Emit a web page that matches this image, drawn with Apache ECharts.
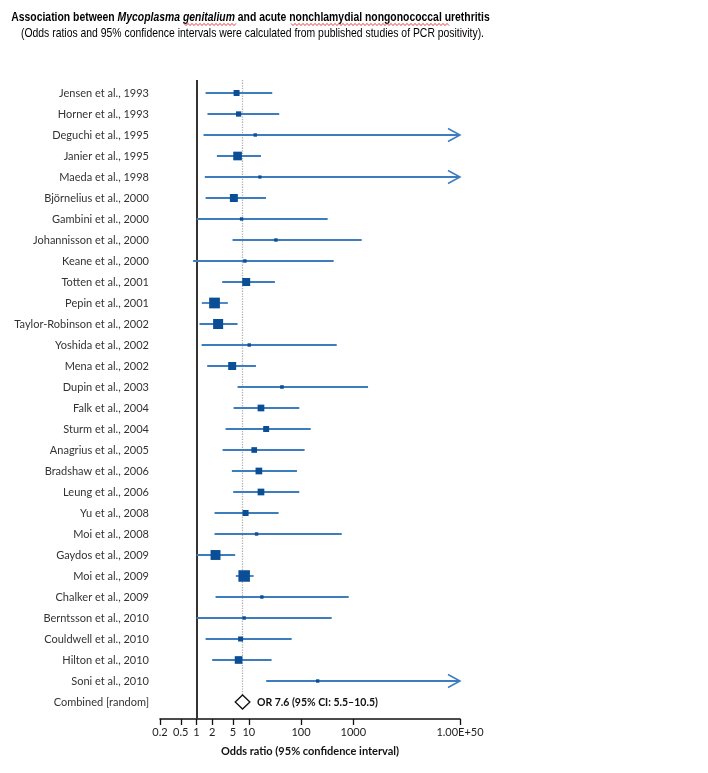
<!DOCTYPE html>
<html><head><meta charset="utf-8">
<script src="https://cdn.jsdelivr.net/npm/echarts@6/dist/echarts.min.js"></script>
<style>html,body{margin:0;padding:0;background:#fff}#c{width:708px;height:773px}</style>
</head><body><div id="c"></div>
<script>
// ---------------- data ----------------
const studies = [
  'Jensen et al., 1993','Horner et al., 1993','Deguchi et al., 1995','Janier et al., 1995',
  'Maeda et al., 1998','Björnelius et al., 2000','Gambini et al., 2000','Johannisson et al., 2000',
  'Keane et al., 2000','Totten et al., 2001','Pepin et al., 2001','Taylor-Robinson et al., 2002',
  'Yoshida et al., 2002','Mena et al., 2002','Dupin et al., 2003','Falk et al., 2004',
  'Sturm et al., 2004','Anagrius et al., 2005','Bradshaw et al., 2006','Leung et al., 2006',
  'Yu et al., 2008','Moi et al., 2008','Gaydos et al., 2009','Moi et al., 2009',
  'Chalker et al., 2009','Berntsson et al., 2010','Couldwell et al., 2010','Hilton et al., 2010',
  'Soni et al., 2010'
];
const oddsRatios = [5.84, 6.38, 13.3, 6.1, 16.3, 5.18, 7.28, 33.0, 8.42, 8.92, 2.21, 2.59, 10.2, 4.81, 43.1,
  17.1, 21.5, 12.7, 15.6, 17.1, 8.68, 14.1, 2.31, 8.16, 17.8, 8.16, 6.97, 6.38, 208];
const ciLower = [1.49, 1.62, 1.36, 2.45, 1.44, 1.49, 1.0, 4.89, 0.86, 3.09, 1.26, 1.14, 1.25, 1.6, 6.1,
  5.11, 3.59, 3.15, 4.75, 5.03, 2.21, 2.21, 1.0, 5.66, 2.31, 1.0, 1.49, 1.99, 21.5];
// null = upper limit beyond the end of the axis (drawn as an arrow)
const ciUpper = [28.1, 38.2, null, 17.1, null, 21.3, 323, 1449, 421, 31.6, 3.98, 6.1, 481, 13.7, 1914,
  92.4, 153, 117, 83.5, 92.4, 37.2, 600, 5.49, 12.4, 816, 386, 66.1, 27.3, null];
const weights = [3.1, 2.4, 1.0, 6.5, 0.9, 5.5, 1.0, 1.0, 1.0, 5.5, 10.0, 8.7, 1.0, 5.5, 1.1,
  3.9, 3.1, 2.8, 3.9, 3.9, 3.1, 1.0, 8.5, 11.5, 1.0, 1.0, 2.2, 5.1, 1.0];
const combinedLabel = 'Combined [random]';
const combinedOR = 7.6, combinedLower = 5.5, combinedUpper = 10.5;
const tickValues = [0.2, 0.5, 1, 2, 5, 10, 100, 1000, 110000];
const tickLabels = ['0.2', '0.5', '1', '2', '5', '10', '100', '1000', '1.00E+50'];
const titleMain = ['Association between ', 'Mycoplasma genitalium', ' and acute nonchlamydial nongonococcal urethritis'];
const subtitle = '(Odds ratios and 95% confidence intervals were calculated from published studies of PCR positivity).';
const axisTitle = 'Odds ratio (95% confidence interval)';

// ---------------- chart ----------------
const LG = Math.log10;
const X_MIN = LG(tickValues[0]), X_MAX = LG(tickValues[tickValues.length - 1]);
const rowLabels = studies.concat([combinedLabel]);
const nRows = rowLabels.length;
const LINE_C = '#3d7dbd', SQ_C = '#0a4f96';
const FONT = 'Lato, "Open Sans", sans-serif';
const TFONT = '"Liberation Sans", Arial, sans-serif';

const studyData = studies.map((s, i) => [i + 1, LG(oddsRatios[i]), LG(ciLower[i]),
  ciUpper[i] == null ? X_MAX : LG(ciUpper[i])]);

function renderStudy(params, api) {
  const i = params.dataIndex;
  const row = api.value(0);
  const pOr = api.coord([api.value(1), row]);
  const pLo = api.coord([Math.max(api.value(2), X_MIN), row]);
  const pHi = api.coord([Math.min(api.value(3), X_MAX), row]);
  const s = 3.4 * Math.sqrt(weights[i]);
  const children = [
    { type: 'line', shape: { x1: pLo[0], y1: pLo[1], x2: pHi[0], y2: pHi[1] },
      style: { stroke: LINE_C, lineWidth: 1.8 } },
    { type: 'rect', shape: { x: pOr[0] - s / 2, y: pOr[1] - s / 2, width: s, height: s },
      style: { fill: SQ_C } }
  ];
  if (ciUpper[i] == null) {
    children.push({ type: 'polyline',
      shape: { points: [[pHi[0] - 12, pHi[1] - 6.5], [pHi[0], pHi[1]], [pHi[0] - 12, pHi[1] + 6.5]] },
      style: { stroke: LINE_C, lineWidth: 1.5, fill: null } });
  }
  return { type: 'group', children };
}

function renderCombined(params, api) {
  const row = api.value(0);
  const c = api.coord([api.value(1), row]);
  const lo = api.coord([api.value(2), row]);
  const hi = api.coord([api.value(3), row]);
  const h = 7;
  return { type: 'group', children: [
    { type: 'polygon', shape: { points: [[lo[0], lo[1]], [c[0], c[1] - h], [hi[0], hi[1]], [c[0], c[1] + h]] },
      style: { fill: '#fff', stroke: '#111', lineWidth: 1.3 } },
    { type: 'text', x: hi[0] + 7, y: hi[1] + 0.5,
      style: { text: 'OR ' + combinedOR + ' (95% CI: ' + combinedLower + '–' + combinedUpper + ')',
        fontFamily: FONT, fontWeight: 'bold', fontSize: 10.5, fill: '#111', verticalAlign: 'middle', align: 'left' } }
  ] };
}

// red wavy "spell-check" underline decoration
function wavy(x1, x2, y) {
  const pts = [];
  let up = true;
  for (let x = x1; x <= x2; x += 2) { pts.push([x, y + (up ? -1.1 : 1.1)]); up = !up; }
  return { type: 'polyline', z: 11, shape: { points: pts }, style: { stroke: '#e03030', lineWidth: 0.9, fill: null } };
}

const chart = echarts.init(document.getElementById('c'), null, { renderer: 'canvas' });
chart.setOption({
  animation: false,
  backgroundColor: '#fff',
  graphic: [
    { type: 'text', x: 250.5, y: 17, z: 10, scaleX: 0.8,
      style: { text: '{b|' + titleMain[0] + '}{bi|' + titleMain[1] + '}{b|' + titleMain[2] + '}',
        align: 'center', verticalAlign: 'middle',
        rich: {
          b: { fontFamily: TFONT, fontWeight: 'bold', fontSize: 13, fill: '#000', color: '#000' },
          bi: { fontFamily: TFONT, fontWeight: 'bold', fontStyle: 'italic', fontSize: 13, fill: '#000', color: '#000' }
        } } },
    { type: 'text', x: 252.5, y: 33, z: 10, scaleX: 0.8,
      style: { text: subtitle, align: 'center', verticalAlign: 'middle',
        fontFamily: TFONT, fontSize: 13, fill: '#000' } },
    wavy(184, 237, 24.5),
    wavy(291, 449, 24.5)
  ],
  grid: { left: 160, right: 248, top: 80, bottom: 54, containLabel: false, outerBoundsMode: 'none' },
  xAxis: {
    type: 'value', min: X_MIN, max: X_MAX,
    axisLine: { show: true, lineStyle: { color: '#111', width: 1.6 } },
    axisTick: { show: true, customValues: tickValues.map(LG), length: 6, lineStyle: { color: '#111', width: 1.3 } },
    axisLabel: { customValues: tickValues.map(LG), margin: 8, fontFamily: FONT, fontSize: 11, color: '#222',
      formatter: v => { let k = 0; tickValues.forEach((t, j) => { if (Math.abs(LG(t) - v) < Math.abs(LG(tickValues[k]) - v)) k = j; }); return tickLabels[k]; } },
    splitLine: { show: false },
    name: axisTitle, nameLocation: 'middle', nameGap: 27,
    nameTextStyle: { fontFamily: FONT, fontWeight: 'bold', fontSize: 11, color: '#111' }
  },
  yAxis: {
    type: 'value', inverse: true, min: 0.381, max: 30.81,
    axisLine: { show: false }, axisTick: { show: false }, splitLine: { show: false },
    axisLabel: { customValues: rowLabels.map((r, i) => i + 1), margin: 11, fontFamily: FONT, fontSize: 11, color: '#333',
      formatter: v => rowLabels[Math.round(v) - 1] || '' }
  },
  series: [
    {
      type: 'custom', name: 'studies', z: 3, clip: false,
      renderItem: renderStudy,
      encode: { x: [1, 2, 3], y: 0 },
      data: studyData,
      markLine: {
        silent: true, symbol: 'none', z: 2, animation: false,
        label: { show: false },
        data: [
          { xAxis: LG(1), lineStyle: { color: '#333', width: 2, type: 'solid' } },
          [{ coord: [LG(combinedOR), 0.381], lineStyle: { color: '#b0b0b0', width: 1.3, type: 'dotted' } },
           { coord: [LG(combinedOR), nRows] }]
        ]
      }
    },
    {
      type: 'custom', name: 'combined', z: 4, clip: false,
      renderItem: renderCombined,
      encode: { x: [1, 2, 3], y: 0 },
      data: [[nRows, LG(combinedOR), LG(combinedLower), LG(combinedUpper)]]
    }
  ]
});
</script></body></html>
